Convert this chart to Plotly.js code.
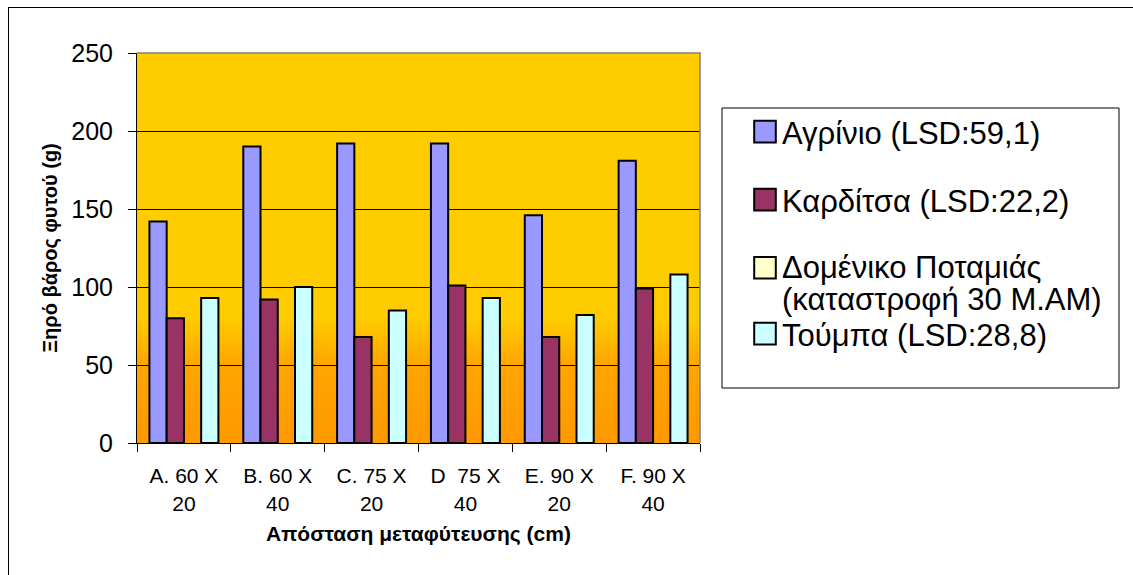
<!DOCTYPE html>
<html>
<head>
<meta charset="utf-8">
<script src="https://cdn.plot.ly/plotly-3.0.1.min.js"></script>
<style>
html,body{margin:0;padding:0;background:#fff;}
#chart{width:1133px;height:575px;}
#frame{position:absolute;left:8px;top:7px;width:1140px;height:600px;border-left:1px solid #000;border-top:1px solid #000;pointer-events:none;}
</style>
</head>
<body>
<div id="chart"></div>
<div id="frame"></div>
<script>
const categories = ["A. 60 X<br>20", "B. 60 X<br>40", "C. 75 X<br>20", "D\u00a0 75 X<br>40", "E. 90 X<br>20", "F. 90 X<br>40"];
const seriesNames = ["Αγρίνιο (LSD:59,1)", "Καρδίτσα (LSD:22,2)", "Δομένικο Ποταμιάς<br>(καταστροφή 30 Μ.ΑΜ)", "Τούμπα (LSD:28,8)"];
const agrinio = [142, 190, 192, 192, 146, 181];
const karditsa = [80, 92, 68, 101, 68, 99];
const domeniko = [null, null, null, null, null, null];
const toumpa = [93, 100, 85, 93, 82, 108];
const colors = ["#9999FF", "#993366", "#FFFFCC", "#CCFFFF"];
const yTicks = [0, 50, 100, 150, 200, 250];

const FONT = "Arial, 'Liberation Sans', sans-serif";
const values = [agrinio, karditsa, domeniko, toumpa];
const legendIds = ["legend", "legend2", "legend3", "legend4"];

// multi-line names: draw glyphs at 31px while the line pitch follows a smaller base font (tight spacing like the reference)
const displayName = n => n.includes("<br>")
  ? n.split("<br>").map(s => "<span style='font-size:31px'>" + s + "</span>").join("<br>")
  : n;

const traces = values.map((v, i) => ({
  type: "bar",
  name: displayName(seriesNames[i]),
  x: categories,
  y: v,
  marker: {color: colors[i], line: {color: "#000", width: 2}},
  legend: legendIds[i],
  hoverinfo: "y+name"
}));

// gradient background via canvas
const cv = document.createElement("canvas");
cv.width = 10; cv.height = 390;
const ctx = cv.getContext("2d");
const g = ctx.createLinearGradient(0, 0, 0, 390);
g.addColorStop(0, "#FFCC00");
g.addColorStop(0.68, "#FFCC00");
g.addColorStop(0.80, "#FFA500");
g.addColorStop(1, "#FF9900");
ctx.fillStyle = g; ctx.fillRect(0, 0, 10, 390);
const bgURL = cv.toDataURL();

const L = 137, R = 700, T = 53, B = 443;
const W = R - L, H = B - T;
const px = x => (x - L) / W;
const py = y => (B - y) / H;

const legendBase = {
  bgcolor: "rgba(0,0,0,0)", borderwidth: 0,
  font: {family: FONT, size: 31, color: "#000"},
  xanchor: "left", yanchor: "middle", valign: "top",
  itemclick: false, itemdoubleclick: false
};

const layout = {
  width: 1133, height: 575,
  margin: {l: L, r: 1133 - R, t: T, b: 575 - B},
  paper_bgcolor: "#fff",
  plot_bgcolor: "rgba(0,0,0,0)",
  font: {family: FONT, color: "#000"},
  barmode: "group",
  bargap: 0.265,
  bargroupgap: 0,
  showlegend: true,
  xaxis: {
    type: "category",
    tickson: "boundaries",
    ticks: "outside", ticklen: 8, tickcolor: "#000", tickwidth: 1,
    ticklabelstandoff: 14,
    showline: true, linecolor: "#000", linewidth: 1,
    showgrid: false,
    tickfont: {family: FONT, size: 21, color: "#000"},
    title: {text: "Απόσταση μεταφύτευσης (cm)", font: {family: FONT, size: 21, color: "#000", weight: "bold"}, standoff: 12},
    automargin: false
  },
  yaxis: {
    range: [0, 250],
    tickvals: yTicks,
    ticks: "outside", ticklen: 8, tickcolor: "#000", tickwidth: 1,
    ticklabelstandoff: 10,
    showline: true, linecolor: "#000", linewidth: 1,
    showgrid: true, gridcolor: "#000", gridwidth: 1,
    zeroline: false,
    tickfont: {family: FONT, size: 25, color: "#000"},
    title: {text: "Ξηρό βάρος φυτού (g)", font: {family: FONT, size: 20, color: "#000", weight: "bold"}, standoff: 8},
    automargin: false
  },
  images: [{
    source: bgURL, xref: "paper", yref: "paper",
    x: 0, y: 1, sizex: 1, sizey: 1, sizing: "stretch",
    xanchor: "left", yanchor: "top", layer: "below"
  }],
  shapes: [
    {type: "path", xref: "paper", yref: "paper", path: "M 0 1 L 1 1 L 1 0", line: {color: "#808080", width: 1.5}},
    {type: "rect", xref: "paper", yref: "paper", x0: px(722), x1: px(1119), y0: py(388), y1: py(108), line: {color: "#000", width: 1}, fillcolor: "rgba(0,0,0,0)"}
  ],
  legend: Object.assign({}, legendBase, {x: px(742), y: py(132)}),
  legend2: Object.assign({}, legendBase, {x: px(742), y: py(200)}),
  legend3: Object.assign({}, legendBase, {x: px(742), y: py(284), font: {family: FONT, size: 25, color: "#000"}}),
  legend4: Object.assign({}, legendBase, {x: px(742), y: py(334)})
};

function tweak(gd) {
  // enlarge legend swatches to match the reference's bigger squares
  gd.querySelectorAll("g.legendpoints path").forEach(p => {
    if (p.dataset.scaled) return;
    const t = p.getAttribute("transform") || "";
    p.setAttribute("transform", t + " translate(3,0) scale(1.8)");
    p.setAttribute("vector-effect", "non-scaling-stroke");
    p.dataset.scaled = "1";
  });
}

Plotly.newPlot("chart", traces, layout, {displayModeBar: false, staticPlot: true}).then(gd => {
  tweak(gd);
  setTimeout(() => tweak(gd), 50);
});
</script>
</body>
</html>
